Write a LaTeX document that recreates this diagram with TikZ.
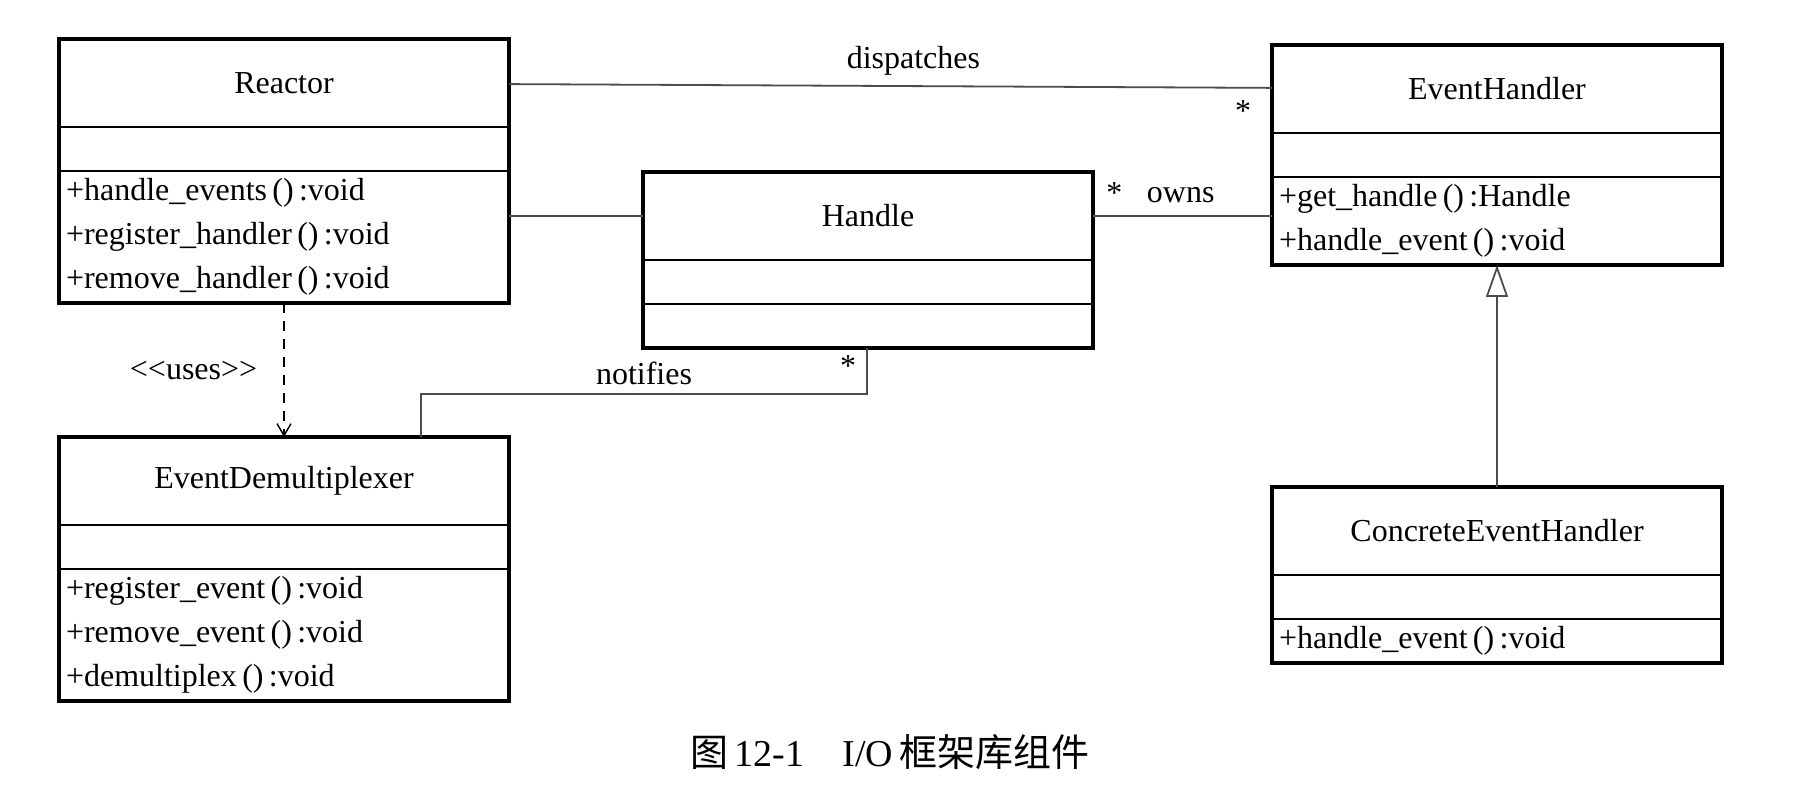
\documentclass[tikz,border=0pt]{standalone}
\usepackage{fontspec}
\setmainfont{Liberation Serif}
\newfontfamily\cjk{Noto Sans CJK SC}
\usetikzlibrary{positioning, arrows.meta}

\tikzset{
  part/.style={draw, line width=0.9pt, rectangle, anchor=north west, outer sep=0pt,
    minimum width=225pt, inner sep=0pt, font=\fontsize{16}{22}\selectfont},
  title/.style={part, minimum height=44pt},
  attr/.style={part, minimum height=22pt},
  ops/.style={part, align=left, text width=218pt, inner xsep=3.5pt},
  frame/.style={draw, line width=1.6pt},
  link/.style={draw=black!70, line width=0.9pt},
  lbl/.style={font=\fontsize{16}{18}\selectfont, inner sep=2pt}
}

\begin{document}
\begin{tikzpicture}[x=0.5pt, y=-0.5pt]
  \useasboundingbox (0,0) rectangle (1794,790);

  % classes
  \node[title] (reactor) at (59,39) {Reactor};
  \node[attr, below=0pt of reactor] (reactor_attr) {};
  \node[ops, below=0pt of reactor_attr, minimum height=66pt] (reactor_ops)
    {+handle\_events\,()\,:void\\+register\_handler\,()\,:void\\+remove\_handler\,()\,:void};

  \node[title] (handle) at (643,172) {Handle};
  \node[attr, below=0pt of handle] (handle_attr) {};
  \node[attr, below=0pt of handle_attr] (handle_ops) {};

  \node[title] (handler) at (1272,45) {EventHandler};
  \node[attr, below=0pt of handler] (handler_attr) {};
  \node[ops, below=0pt of handler_attr, minimum height=44pt] (handler_ops)
    {+get\_handle\,()\,:Handle\\+handle\_event\,()\,:void};

  \node[title] (demux) at (59,437) {EventDemultiplexer};
  \node[attr, below=0pt of demux] (demux_attr) {};
  \node[ops, below=0pt of demux_attr, minimum height=66pt] (demux_ops)
    {+register\_event\,()\,:void\\+remove\_event\,()\,:void\\+demultiplex\,()\,:void};

  \node[title] (concrete) at (1272,487) {ConcreteEventHandler};
  \node[attr, below=0pt of concrete] (concrete_attr) {};
  \node[ops, below=0pt of concrete_attr, minimum height=22pt] (concrete_ops)
    {+handle\_event\,()\,:void};

  \draw[frame] (reactor.north west) rectangle (reactor_ops.south east);
  \draw[frame] (handle.north west) rectangle (handle_ops.south east);
  \draw[frame] (handler.north west) rectangle (handler_ops.south east);
  \draw[frame] (demux.north west) rectangle (demux_ops.south east);
  \draw[frame] (concrete.north west) rectangle (concrete_ops.south east);

  % associations
  \path[link]
    (reactor) edge node[lbl, above=3pt, pos=0.53] {dispatches}
                   node[lbl, below=4pt, pos=0.962] {*} (handler)
    (handle.west) edge (reactor_ops.east |- handle.west)
    (handle.east) edge node[lbl, above=4pt, pos=0.49] {owns}
                       node[lbl, above=4pt, pos=0.12] {*} (handler_ops.west |- handle.east);
  \draw[link] ([xshift=-113pt]handle_ops.south east) -- ++(0,46)
      node[lbl, pos=0.4, left=3pt] {*}
    -| ([xshift=181pt]demux.north west)
      node[lbl, pos=0.25, above=2pt] {notifies};

  % dependency and generalisation
  \path
    (reactor_ops.south) edge[draw=black, line width=0.8pt, dash pattern=on 5pt off 4pt,
      -{Straight Barb[length=6pt, width=7pt, line width=0.7pt]}]
      node[lbl, left=11pt] {<{}<uses>{}>} (demux.north)
    (concrete.north) edge[link, -{Triangle[open, length=16pt, width=11pt, line width=0.9pt]}]
      (handler_ops.south);

  % caption
  \node[font=\fontsize{19}{22}\selectfont] (caption) at (890,752)
    {{\cjk 图}\,12-1\quad I/O\,{\cjk 框架库组件}};
\end{tikzpicture}
\end{document}
